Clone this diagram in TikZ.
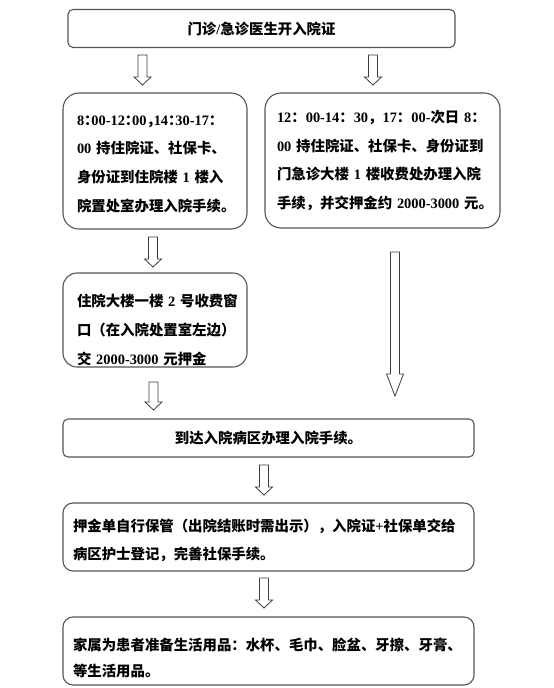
\documentclass[tikz,border=0pt]{standalone}
\usepackage{fontspec}
\setmainfont{Noto Sans CJK SC}
\newfontfamily\latinfont{Liberation Serif}
\newcommand{\en}[1]{\mbox{\latinfont #1}}
\newcommand{\halfpunct}{\addfontfeatures{RawFeature=+halt}}
\definecolor{boxline}{RGB}{85,85,85}
\definecolor{arrowline}{RGB}{60,60,60}
% hollow down arrow: top point, length, head length
\newcommand{\blockarrow}[3]{%
	\draw[hollow] (#1) ++(-4.5,0) -- ++(0,#2-#3) -- ++(-4,0) -- ++(8.5,#3) -- ++(8.5,-#3) -- ++(-4,0) -- ++(0,#3-#2) -- cycle;}

\begin{document}
\begin{tikzpicture}[x=1pt, y=-1pt,
	box/.style={draw=boxline, line width=1.1pt, rounded corners=#1, inner xsep=14pt, inner ysep=0pt,
		font=\bfseries\fontsize{14.4pt}{28.7pt}\selectfont},
	box/.default=5pt,
	hollow/.style={draw=arrowline, line width=0.8pt, fill=white}]
	\useasboundingbox (0,0) rectangle (554,688);

	\node[box, minimum width=387pt, minimum height=38pt] (order) at (261.5,28.5) {门诊\en{/}急诊医生开入院证};

	\node[box=16pt, minimum width=184pt, minimum height=136pt, text width=156pt, align=left] (daytime) at (155,161) {%
		\rule{0pt}{16pt}{\halfpunct\en{8}：\en{00-12}：\en{00}，\en{14}：\en{30-17}：}\\
		\en{00}~持住院证、社保卡、\\
		身份证到住院楼~\en{1}~楼入\\
		院置处室办理入院手续。};
	\node[box=16pt, inner xsep=12pt, minimum width=235pt, minimum height=135pt, text width=211pt, align=left] (night) at (382.5,160.5) {%
		\en{12}：\en{00-14}：\en{30}，\en{17}：\en{00-}次日~\en{8}：\\
		\en{00}~持住院证、社保卡、身份证到\\
		门急诊大楼~\en{1}~楼收费处办理入院\\
		手续，并交押金约~\en{2000-3000}~元。};

	\node[box=14pt, minimum width=184pt, minimum height=94pt, text width=156pt, align=left] (deposit) at (155,320) {%
		\rule{0pt}{32pt}住院大楼一楼~\en{2}~号收费窗\\
		口（在入院处置室左边）\\
		交~\en{2000-3000}~元押金};

	\node[box, minimum width=411pt, minimum height=38pt] (ward) at (268.5,438) {到达入院病区办理入院手续。};

	\node[box=10pt, inner xsep=10pt, minimum width=411pt, minimum height=68pt, text width=391pt, align=left,
		font=\bfseries\fontsize{14.4pt}{28pt}\selectfont] (nurse) at (268.5,537) {%
		\rule{0pt}{19pt}押金单自行保管（出院结账时需出示），入院证\en{+}社保单交给\\
		病区护士登记，完善社保手续。};

	\node[box=10pt, inner xsep=10pt, minimum width=411pt, minimum height=68pt, text width=391pt, align=left,
		font=\bfseries\fontsize{14.4pt}{26pt}\selectfont] (family) at (268.5,651) {%
		\rule{0pt}{26pt}家属为患者准备生活用品：水杯、毛巾、脸盆、牙擦、牙膏、\\
		等生活用品。};

	% arrows between the steps
	\coordinate (toleft) at (142.5,55);
	\coordinate (toright) at (373,55);
	\coordinate (topay) at (153,237);
	\coordinate (payward) at (153.5,382);
	\coordinate (nightward) at (395,252);
	\coordinate (tonurse) at (264,465);
	\coordinate (tofamily) at (264,578);
	\blockarrow{toleft}{30}{8}
	\blockarrow{toright}{30}{8}
	\blockarrow{topay}{30}{8}
	\blockarrow{payward}{28}{8}
	\blockarrow{nightward}{144}{22}
	\blockarrow{tonurse}{30}{8}
	\blockarrow{tofamily}{30}{8}
\end{tikzpicture}
\end{document}
